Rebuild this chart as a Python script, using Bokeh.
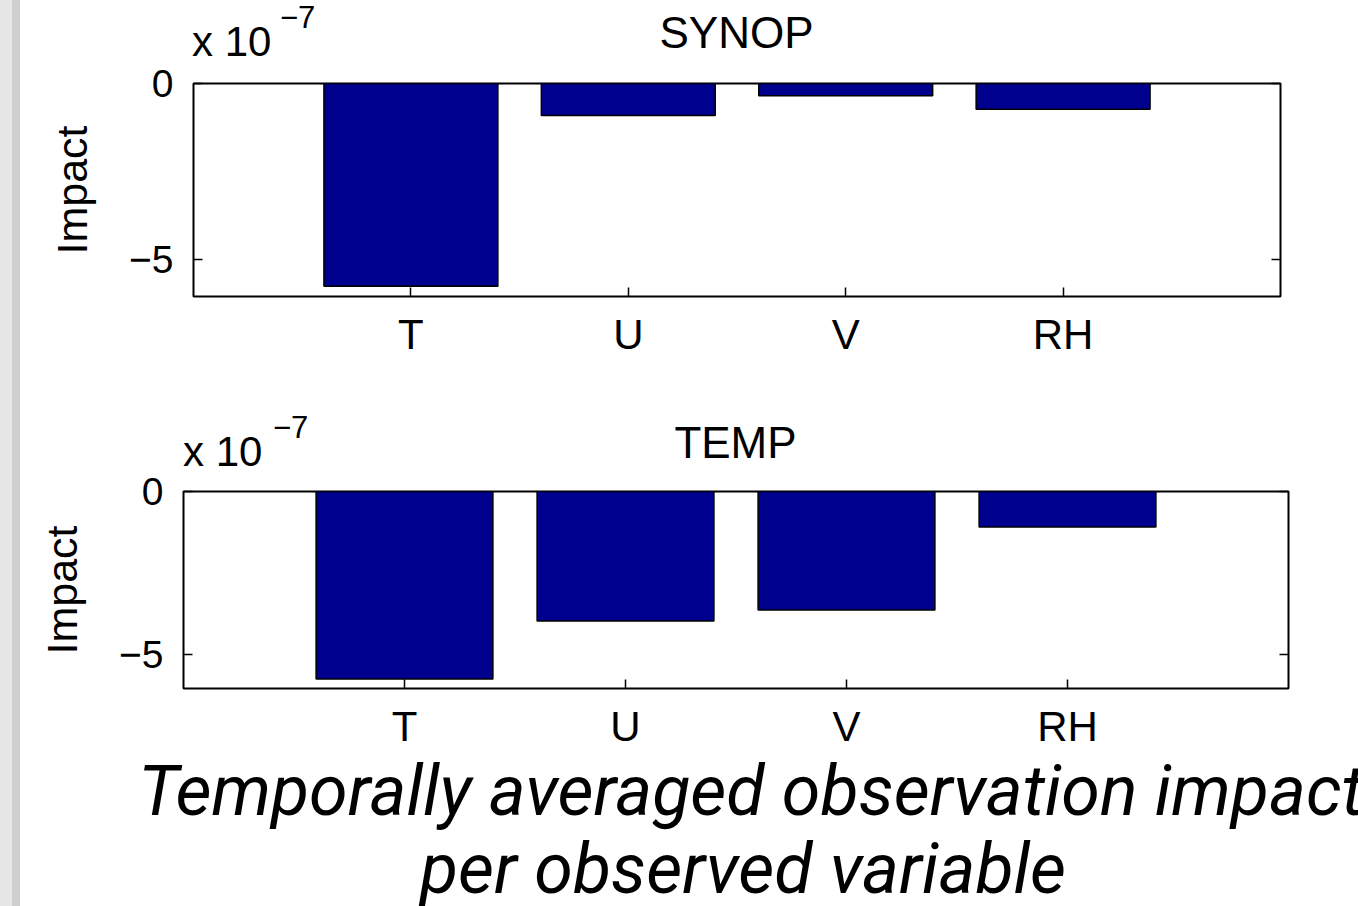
from bokeh.plotting import figure
from bokeh.models import Range1d, FixedTicker, LinearAxis, Spacer, ColumnDataSource, Div
from bokeh.layouts import column, row
from bokeh.embed import file_html
from bokeh.resources import INLINE

# ---- data (impact, in units of 1e-7) ----
categories = ["T", "U", "V", "RH"]
synop_impact = [-5.76, -0.91, -0.35, -0.73]
temp_impact = [-5.76, -3.98, -3.64, -1.09]
y_ticks = [-5, 0]
y_tick_labels = {-5: "\u22125", 0: "0"}
panel_titles = ["SYNOP", "TEMP"]
scale_base = "x 10"
scale_exp = "\u22127"
y_label = "Impact"
caption_lines = ["Temporally averaged observation impact", "per observed variable"]

BAR = "#00008F"
FONT = "Liberation Sans"
W = 1338


def make_panel(values, frame_left, frame_w, frame_h, bottom_b):
    xs = list(range(1, len(categories) + 1))
    p = figure(frame_width=frame_w, frame_height=frame_h,
               min_border_left=frame_left, min_border_right=W - frame_left - frame_w,
               min_border_top=20, min_border_bottom=bottom_b,
               x_range=Range1d(0, len(categories) + 1), y_range=Range1d(-6.05, 0),
               output_backend="svg", toolbar_location=None, tools="")
    src = ColumnDataSource(dict(x=xs, bottom=values, top=[0] * len(values)))
    p.vbar(x="x", top="top", bottom="bottom", width=0.8, source=src,
           fill_color=BAR, line_color="black", line_width=1.5)
    p.grid.visible = False
    p.outline_line_color = "black"
    p.outline_line_width = 2
    p.outline_line_alpha = 1
    p.background_fill_color = "white"
    p.border_fill_color = "white"

    xa = p.xaxis[0]
    xa.ticker = FixedTicker(ticks=xs)
    xa.major_label_overrides = {x: c for x, c in zip(xs, categories)}
    ya = p.yaxis[0]
    ya.ticker = FixedTicker(ticks=y_ticks)
    ya.major_label_overrides = y_tick_labels
    ya.axis_label = y_label
    for ax in (xa, ya):
        ax.axis_line_color = None
        ax.major_tick_in = 9
        ax.major_tick_out = 0
        ax.major_tick_line_width = 1.5
        ax.major_tick_line_color = "black"
        ax.minor_tick_line_color = None
        ax.major_label_text_font = FONT
        ax.major_label_text_color = "black"
    xa.major_label_text_font_size = "42px"
    xa.major_label_standoff = 14
    ya.major_label_text_font_size = "39px"
    ya.major_label_standoff = 20
    ya.major_label_orientation = "horizontal"
    ya.axis_label_text_font = FONT
    ya.axis_label_text_font_size = "43px"
    ya.axis_label_text_font_style = "normal"
    ya.axis_label_text_color = "black"
    ya.axis_label_standoff = 30

    ra = LinearAxis(ticker=FixedTicker(ticks=y_ticks), axis_line_color=None,
                    major_tick_in=9, major_tick_out=0, major_tick_line_width=1.5,
                    minor_tick_line_color=None,
                    major_label_overrides={t: " " for t in y_ticks},
                    major_label_text_font_size="10px")
    p.add_layout(ra, "right")
    return p


def span(text, left, top, size, width=None, center=False, family=FONT, italic=False):
    st = f"position:absolute;left:{left}px;top:{top}px;font-family:'{family}';" \
         f"font-size:{size}px;line-height:1;color:black;white-space:nowrap;"
    if italic:
        st += "font-style:italic;"
    if width is not None:
        st += f"width:{width}px;"
    if center:
        st += "text-align:center;"
    return f'<div style="{st}">{text}</div>'


def header(title, height, base_left, base_base, exp_left, exp_base, title_center, title_base):
    fb, fe, ft = 42, 31, 44
    k = 0.8465
    html = (f'<div style="position:relative;width:{W}px;height:{height}px;">'
            + span(scale_base, base_left, base_base - k * fb, fb)
            + span(scale_exp, exp_left, exp_base - k * fe, fe)
            + span(title, title_center - 500, title_base - k * ft, ft, width=1000, center=True)
            + '</div>')
    return Div(text=html, width=W, height=height, margin=0)


h1 = header(panel_titles[0], 63, 172, 57, 260, 28, 716.5, 48)
p1 = make_panel(synop_impact, 173, 1087, 213, 104)
h2 = header(panel_titles[1], 71, 163, 67, 253, 38, 715.5, 58)
p2 = make_panel(temp_impact, 163, 1105, 197, 72)

CAP_H = 146
cap_html = (f'<div style="position:relative;width:{W}px;height:{CAP_H}px;">'
            + span(caption_lines[0], 731 - 900, 55 - 0.842 * 70, 70, width=1800, center=True,
                   family="Roboto", italic=True)
            + span(caption_lines[1], 723 - 900, 133 - 0.842 * 70, 70, width=1800, center=True,
                   family="Roboto", italic=True)
            + '</div>')
cap = Div(text=cap_html, width=W, height=CAP_H, margin=0)

block1 = column(h1, p1, spacing=0)
block2 = column(h2, p2, spacing=0)
total_h = 63 + 337 + 71 + 289 + CAP_H
strip1 = Spacer(width=12, height=total_h, styles={"background-color": "#e6e6e6"})
strip2 = Spacer(width=8, height=total_h, styles={"background-color": "#cfcfcf"})
layout = row(strip1, strip2, column(block1, block2, cap, spacing=0), spacing=0)

open("out.html", "w").write(file_html(layout, INLINE))
